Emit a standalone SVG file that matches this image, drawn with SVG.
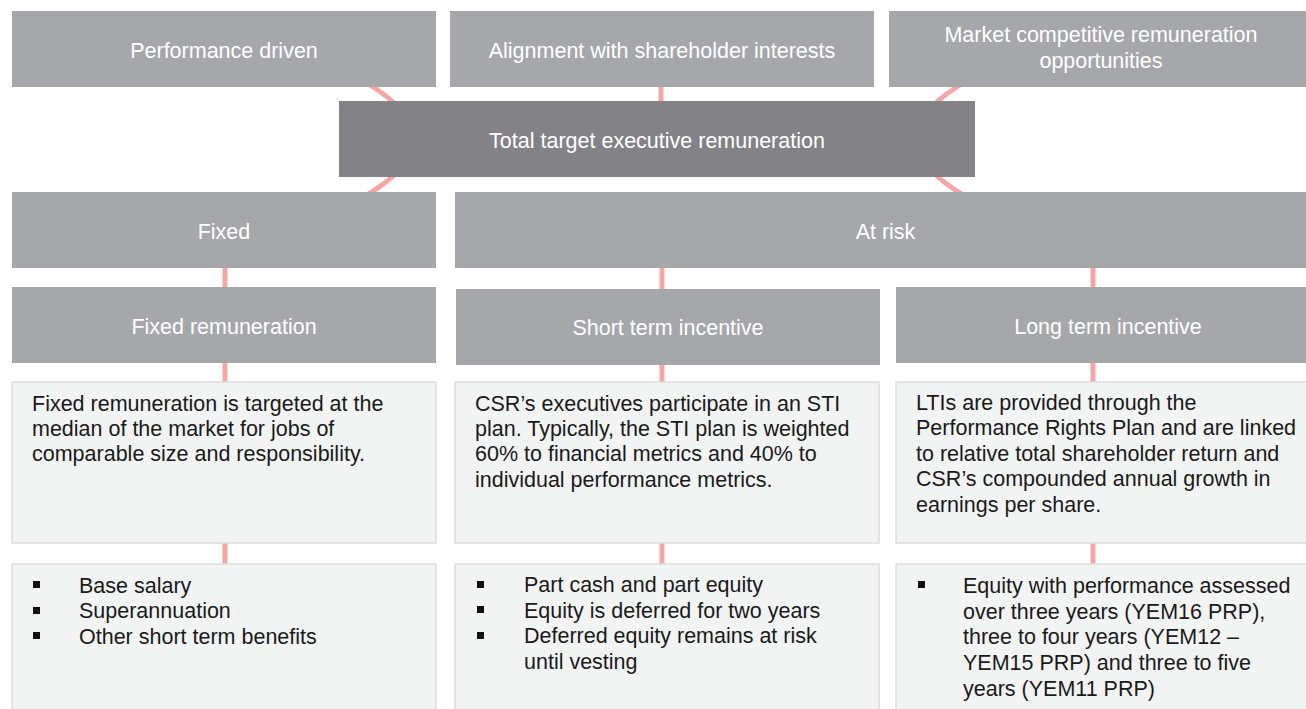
<svg xmlns="http://www.w3.org/2000/svg" width="1306" height="709" viewBox="0 0 1306 709">
  <style>
    .hdr { fill: #a6a7ab; }
    .core { fill: #838387; }
    .desc { fill: #f2f3f3; stroke: #dcdddd; stroke-width: 1.5; }
    .link { stroke: #f4a7a7; stroke-width: 5; fill: none; }
    .ht { font-family: "Liberation Sans", Arial, sans-serif; font-size: 21.5px; fill: #ffffff; text-anchor: middle; }
    .bt { font-family: "Liberation Sans", Arial, sans-serif; font-size: 21.5px; fill: #1a1a1a; }
    .bul { fill: #111111; }
  </style>

  <!-- connectors (drawn beneath the boxes) -->
  <g id="connectors">
    <path class="link" d="M318,59 Q509,139 318,219"/>
    <path class="link" d="M1012,59 Q821,139 1012,219"/>
    <line class="link" x1="661" y1="85" x2="661" y2="103"/>
    <line class="link" x1="225" y1="266" x2="225" y2="289"/>
    <line class="link" x1="225" y1="361" x2="225" y2="384"/>
    <line class="link" x1="225" y1="541" x2="225" y2="566"/>
    <line class="link" x1="662" y1="266" x2="662" y2="291"/>
    <line class="link" x1="662" y1="363" x2="662" y2="384"/>
    <line class="link" x1="662" y1="541" x2="662" y2="566"/>
    <line class="link" x1="1093" y1="266" x2="1093" y2="289"/>
    <line class="link" x1="1093" y1="361" x2="1093" y2="384"/>
    <line class="link" x1="1093" y1="541" x2="1093" y2="566"/>
  </g>

  <!-- top principles -->
  <g id="performance-driven">
    <rect class="hdr" x="12" y="11" width="424" height="76"/>
    <text class="ht" x="224" y="58">Performance driven</text>
  </g>
  <g id="shareholder-alignment">
    <rect class="hdr" x="450" y="11" width="424" height="76"/>
    <text class="ht" x="662" y="58">Alignment with shareholder interests</text>
  </g>
  <g id="market-competitive">
    <rect class="hdr" x="889" y="11" width="424" height="76"/>
    <text class="ht" x="1101" y="42">Market competitive remuneration</text>
    <text class="ht" x="1101" y="68">opportunities</text>
  </g>

  <!-- total remuneration -->
  <g id="total-remuneration">
    <rect class="core" x="339" y="101" width="636" height="76"/>
    <text class="ht" x="657" y="148">Total target executive remuneration</text>
  </g>

  <!-- fixed / at risk split -->
  <g id="fixed">
    <rect class="hdr" x="12" y="192" width="424" height="76"/>
    <text class="ht" x="224" y="239">Fixed</text>
  </g>
  <g id="at-risk">
    <rect class="hdr" x="455" y="192" width="861" height="76"/>
    <text class="ht" x="885.5" y="239">At risk</text>
  </g>

  <!-- components -->
  <g id="fixed-remuneration">
    <rect class="hdr" x="12" y="287" width="424" height="76"/>
    <text class="ht" x="224" y="334">Fixed remuneration</text>
  </g>
  <g id="short-term-incentive">
    <rect class="hdr" x="456" y="289" width="424" height="76"/>
    <text class="ht" x="668" y="335">Short term incentive</text>
  </g>
  <g id="long-term-incentive">
    <rect class="hdr" x="896" y="287" width="424" height="76"/>
    <text class="ht" x="1108" y="334">Long term incentive</text>
  </g>

  <!-- descriptions -->
  <g id="fixed-description">
    <rect class="desc" x="12" y="382" width="424" height="161"/>
    <text class="bt" x="32" y="411">Fixed remuneration is targeted at the</text>
    <text class="bt" x="32" y="436">median of the market for jobs of</text>
    <text class="bt" x="32" y="461">comparable size and responsibility.</text>
  </g>
  <g id="sti-description">
    <rect class="desc" x="455" y="382" width="424" height="161"/>
    <text class="bt" x="475" y="411">CSR’s executives participate in an STI</text>
    <text class="bt" x="475" y="436">plan. Typically, the STI plan is weighted</text>
    <text class="bt" x="475" y="461">60% to financial metrics and 40% to</text>
    <text class="bt" x="475" y="487">individual performance metrics.</text>
  </g>
  <g id="lti-description">
    <rect class="desc" x="896" y="382" width="424" height="161"/>
    <text class="bt" x="916" y="410">LTIs are provided through the</text>
    <text class="bt" x="916" y="435">Performance Rights Plan and are linked</text>
    <text class="bt" x="916" y="461">to relative total shareholder return and</text>
    <text class="bt" x="916" y="486">CSR’s compounded annual growth in</text>
    <text class="bt" x="916" y="512">earnings per share.</text>
  </g>

  <!-- detail lists -->
  <g id="fixed-details">
    <rect class="desc" x="12" y="564" width="424" height="160"/>
    <rect class="bul" x="33" y="581" width="7" height="7"/>
    <text class="bt" x="79" y="593">Base salary</text>
    <rect class="bul" x="33" y="607" width="7" height="7"/>
    <text class="bt" x="79" y="618">Superannuation</text>
    <rect class="bul" x="33" y="632" width="7" height="7"/>
    <text class="bt" x="79" y="644">Other short term benefits</text>
  </g>
  <g id="sti-details">
    <rect class="desc" x="455" y="564" width="424" height="160"/>
    <rect class="bul" x="477" y="581" width="7" height="7"/>
    <text class="bt" x="524" y="592">Part cash and part equity</text>
    <rect class="bul" x="477" y="606" width="7" height="7"/>
    <text class="bt" x="524" y="618">Equity is deferred for two years</text>
    <rect class="bul" x="477" y="632" width="7" height="7"/>
    <text class="bt" x="524" y="643">Deferred equity remains at risk</text>
    <text class="bt" x="524" y="669">until vesting</text>
  </g>
  <g id="lti-details">
    <rect class="desc" x="896" y="564" width="424" height="160"/>
    <rect class="bul" x="918" y="581" width="7" height="7"/>
    <text class="bt" x="963" y="593">Equity with performance assessed</text>
    <text class="bt" x="963" y="619">over three years (YEM16 PRP),</text>
    <text class="bt" x="963" y="644">three to four years (YEM12 –</text>
    <text class="bt" x="963" y="670">YEM15 PRP) and three to five</text>
    <text class="bt" x="963" y="696">years (YEM11 PRP)</text>
  </g>
</svg>
